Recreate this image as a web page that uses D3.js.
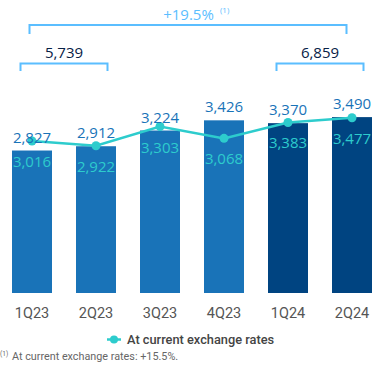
<!DOCTYPE html>
<html><head><meta charset="utf-8">
<script src="https://cdn.jsdelivr.net/npm/d3@7"></script>
<style>html,body{margin:0;padding:0;background:#fff;}svg{display:block;}</style>
</head><body>
<svg id="c" width="387" height="371"></svg>
<script>
const categories = ["1Q23","2Q23","3Q23","4Q23","1Q24","2Q24"];
const constantRates = [2827, 2912, 3224, 3426, 3370, 3490];
const currentRates = [3016, 2922, 3303, 3068, 3383, 3477];
const barYear = ["2023","2023","2023","2023","2024","2024"];
const groupTotals = [{label:"5,739", from:"1Q23", to:"2Q23"},{label:"6,859", from:"1Q24", to:"2Q24"}];
const growthLabel = "+19.5%";
const legendLabel = "At current exchange rates";
const footnote = "At current exchange rates: +15.5%.";

const svg = d3.select("#c");
const x = d3.scaleBand().domain(categories).range([0,384]).paddingInner(0.375).paddingOuter(0.1875);
const y = d3.scaleLinear().domain([0,4000]).range([293, 91.4]);
const bw = x.bandwidth();
const cx = c => x(c) + bw/2;
const barColor = {"2023":"#1973b8","2024":"#004481"};
const teal = "#2dcccd";
const bracket = "#5bbeff";

// bars
svg.append("g").selectAll("rect").data(categories).join("rect")
  .attr("x", d=>x(d)).attr("width", bw)
  .attr("y", (d,i)=>y(constantRates[i])).attr("height",(d,i)=>y(0)-y(constantRates[i]))
  .attr("fill",(d,i)=>barColor[barYear[i]]);

// inner teal labels
svg.append("g").selectAll("text").data(categories).join("text")
  .attr("x", d=>cx(d)).attr("y",(d,i)=>y(currentRates[i])+26)
  .attr("text-anchor","middle").attr("font-family","Open Sans").attr("font-size",15)
  .attr("fill",teal).text((d,i)=>d3.format(",")(currentRates[i]));

// line
const line = d3.line().x((d,i)=>cx(categories[i])).y(d=>y(d));
svg.append("path").datum(currentRates).attr("d",line).attr("fill","none")
  .attr("stroke",teal).attr("stroke-width",2.5);
svg.append("g").selectAll("circle").data(currentRates).join("circle")
  .attr("cx",(d,i)=>cx(categories[i])).attr("cy",d=>y(d)).attr("r",4.5).attr("fill",teal);

// top labels
svg.append("g").selectAll("text").data(categories).join("text")
  .attr("x", d=>cx(d)).attr("y",(d,i)=>y(constantRates[i])-8)
  .attr("text-anchor","middle").attr("font-family","Open Sans").attr("font-size",15)
  .attr("fill","#1973b8").text((d,i)=>d3.format(",")(constantRates[i]));

// axis
const ax = svg.append("g").attr("transform","translate(0,293)")
  .call(d3.axisBottom(x).tickSize(0).tickPadding(15));
ax.select(".domain").remove();
ax.selectAll("text").attr("font-family","Roboto").attr("font-size",14.5).attr("fill","#555");

// group brackets
groupTotals.forEach(g=>{
  const x1 = cx(g.from)-11.5, x2 = cx(g.to)+11.5;
  svg.append("path").attr("d",`M${x1},71V63.5H${x2}V71`).attr("fill","none")
    .attr("stroke",bracket).attr("stroke-width",2);
  svg.append("text").attr("x",(x1+x2)/2).attr("y",58).attr("text-anchor","middle")
    .attr("font-family","Open Sans").attr("font-size",15).attr("fill","#072146").text(g.label);
});
// overall bracket
{
  const x1 = cx(categories[0])-2.5, x2 = cx(categories[categories.length-1])-5.5;
  svg.append("path").attr("d",`M${x1},34V25H${x2}V34`).attr("fill","none")
    .attr("stroke",bracket).attr("stroke-width",2);
  svg.append("text").attr("x",188.5).attr("y",19.5).attr("text-anchor","middle")
    .attr("font-family","Open Sans").attr("font-size",15).attr("fill",bracket).text(growthLabel);
  svg.append("text").attr("x",220).attr("y",13).attr("font-family","Open Sans").attr("font-size",8)
    .attr("fill",bracket).text("(1)");
}

// legend
const lg = svg.append("g");
lg.append("line").attr("x1",107).attr("x2",121).attr("y1",339.5).attr("y2",339.5).attr("stroke",teal).attr("stroke-width",2.5);
lg.append("circle").attr("cx",114).attr("cy",339.5).attr("r",4).attr("fill",teal);
lg.append("text").attr("x",127).attr("y",343.5).attr("font-family","Roboto").attr("font-weight",500)
  .attr("font-size",12.8).attr("fill","#444").text(legendLabel);

// footnote
svg.append("text").attr("x",0).attr("y",356).attr("font-family","Roboto").attr("font-size",6.5).attr("fill","#666").text("(1)");
svg.append("text").attr("x",12).attr("y",360).attr("font-family","Roboto").attr("font-size",10.8).attr("fill","#666").text(footnote);
</script>
</body></html>
